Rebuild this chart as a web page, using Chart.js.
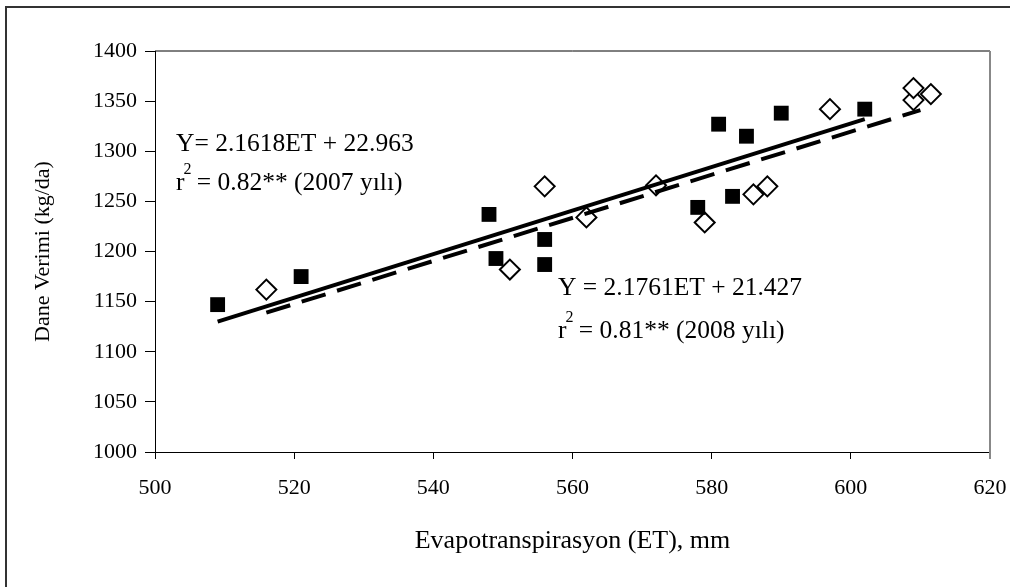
<!DOCTYPE html>
<html>
<head>
<meta charset="utf-8">
<script src="https://cdn.jsdelivr.net/npm/chart.js@4"></script>
<style>
  html, body { margin: 0; padding: 0; background: #fff; }
  #graphCanvas { display: block; }
</style>
</head>
<body>
<canvas id="graphCanvas" width="1010" height="587"></canvas>
<script>
// measured points (ET mm, yield kg/da)
var et2007 = [509, 521, 548, 549, 556, 556, 578, 581, 583, 585, 590, 602];
var yield2007 = [1147, 1175, 1237, 1193, 1212, 1187, 1244, 1327, 1255, 1315, 1338, 1342];

var et2008 = [516, 551, 556, 562, 572, 579, 586, 588, 597, 609, 609, 611.5];
var yield2008 = [1162, 1182, 1265, 1234, 1266, 1229, 1257, 1265, 1342, 1351, 1363, 1357];

// fitted lines, end points as drawn
var fitEt2007 = [509, 602];
var fitYield2007 = [1130, 1332];
var fitEt2008 = [516, 610];
var fitYield2008 = [1139, 1341];

var xTicks = [500, 520, 540, 560, 580, 600, 620];
var yTicks = [1000, 1050, 1100, 1150, 1200, 1250, 1300, 1350, 1400];

var eq2007 = ['Y= 2.1618ET + 22.963', ' = 0.82** (2007 yılı)'];
var eq2008 = ['Y = 2.1761ET + 21.427', ' = 0.81** (2008 yılı)'];

function toPoints(xs, ys) {
    var pts = [];
    for (var i in xs) {
        pts.push({x: xs[i], y: ys[i]});
    }
    return pts;
}

var serif = '"Liberation Serif", "Times New Roman", serif';

// frame, top/right plot border and the equations
var extras = {
    id: 'extras',
    afterDraw: function (chart) {
        var ctx = chart.ctx;
        var a = chart.chartArea;
        ctx.save();
        // outer frame
        ctx.strokeStyle = '#333';
        ctx.lineWidth = 2;
        ctx.beginPath();
        ctx.moveTo(6, 587);
        ctx.lineTo(6, 7);
        ctx.lineTo(1010, 7);
        ctx.stroke();
        // plot box
        ctx.strokeStyle = '#000';
        ctx.lineWidth = 1;
        ctx.beginPath();
        ctx.moveTo(a.left, a.top);
        ctx.lineTo(a.right, a.top);
        ctx.stroke();
        ctx.strokeStyle = '#888';
        ctx.lineWidth = 2;
        ctx.beginPath();
        ctx.moveTo(a.right, a.top);
        ctx.lineTo(a.right, a.bottom + 7);
        ctx.stroke();

        ctx.fillStyle = '#000';
        ctx.textBaseline = 'alphabetic';
        ctx.textAlign = 'left';
        drawEq(ctx, eq2007, 176, 151, 190);
        drawEq(ctx, eq2008, 558, 295, 338);
        ctx.restore();
    }
};

function drawEq(ctx, lines, x, y1, y2) {
    var big = '25.5px ' + serif;
    var small = '16px ' + serif;
    ctx.font = big;
    ctx.fillText(lines[0], x, y1);
    ctx.fillText('r', x, y2);
    var w = ctx.measureText('r').width;
    ctx.font = small;
    ctx.fillText('2', x + w - 1, y2 - 16);
    var w2 = ctx.measureText('2').width;
    ctx.font = big;
    ctx.fillText(lines[1], x + w + w2 - 2, y2);
}

var chartdata = {
    datasets: [
        {
            label: 'fit 2007',
            type: 'line',
            data: toPoints(fitEt2007, fitYield2007),
            borderColor: '#000',
            borderWidth: 4,
            pointRadius: 0,
            fill: false
        },
        {
            label: 'fit 2008',
            type: 'line',
            data: toPoints(fitEt2008, fitYield2008),
            borderColor: '#000',
            borderWidth: 4,
            borderDash: [25, 12],
            pointRadius: 0,
            fill: false
        },
        {
            label: '2007',
            data: toPoints(et2007, yield2007),
            pointStyle: 'rect',
            pointRadius: 10.5,
            backgroundColor: '#000',
            borderColor: '#000',
            borderWidth: 0
        },
        {
            label: '2008',
            data: toPoints(et2008, yield2008),
            pointStyle: 'rectRot',
            pointRadius: 10,
            backgroundColor: '#fff',
            borderColor: '#000',
            borderWidth: 2
        }
    ]
};

var graphTarget = document.getElementById('graphCanvas');

var scatterGraph = new Chart(graphTarget, {
    type: 'scatter',
    data: chartdata,
    plugins: [extras],
    options: {
        responsive: false,
        animation: false,
        devicePixelRatio: 1,
        layout: { padding: { left: 0, top: 51, right: 20, bottom: 0 } },
        plugins: {
            legend: { display: false },
            tooltip: { enabled: false }
        },
        scales: {
            x: {
                type: 'linear',
                min: 500,
                max: 620,
                afterBuildTicks: function (scale) {
                    scale.ticks = xTicks.map(function (v) { return {value: v}; });
                },
                afterFit: function (scale) {
                    scale.height = 135;
                    scale.paddingLeft = 0;
                    scale.paddingRight = 0;
                },
                grid: { drawOnChartArea: false, color: '#000', tickLength: 7, lineWidth: 1 },
                border: { color: '#000', width: 1 },
                ticks: {
                    color: '#000', padding: 16, maxRotation: 0,
                    font: { family: serif, size: 22 },
                    callback: function (v) { return String(v); }
                },
                title: {
                    display: true,
                    text: 'Evapotranspirasyon (ET), mm',
                    color: '#000',
                    font: { family: serif, size: 26 },
                    padding: { top: 0, bottom: 30 }
                }
            },
            y: {
                type: 'linear',
                min: 1000,
                max: 1400,
                afterBuildTicks: function (scale) {
                    scale.ticks = yTicks.map(function (v) { return {value: v}; });
                },
                afterFit: function (scale) {
                    scale.width = 155;
                    scale.paddingTop = 0;
                    scale.paddingBottom = 0;
                },
                grid: { drawOnChartArea: false, color: '#000', tickLength: 10, lineWidth: 1 },
                border: { color: '#000', width: 1 },
                ticks: {
                    color: '#000', padding: 8,
                    font: { family: serif, size: 22 },
                    callback: function (v) { return String(v); }
                },
                title: {
                    display: true,
                    text: 'Dane Verimi (kg/da)',
                    color: '#000',
                    font: { family: serif, size: 22 },
                    padding: { top: 30, bottom: 0 }
                }
            }
        }
    }
});
</script>
</body>
</html>
